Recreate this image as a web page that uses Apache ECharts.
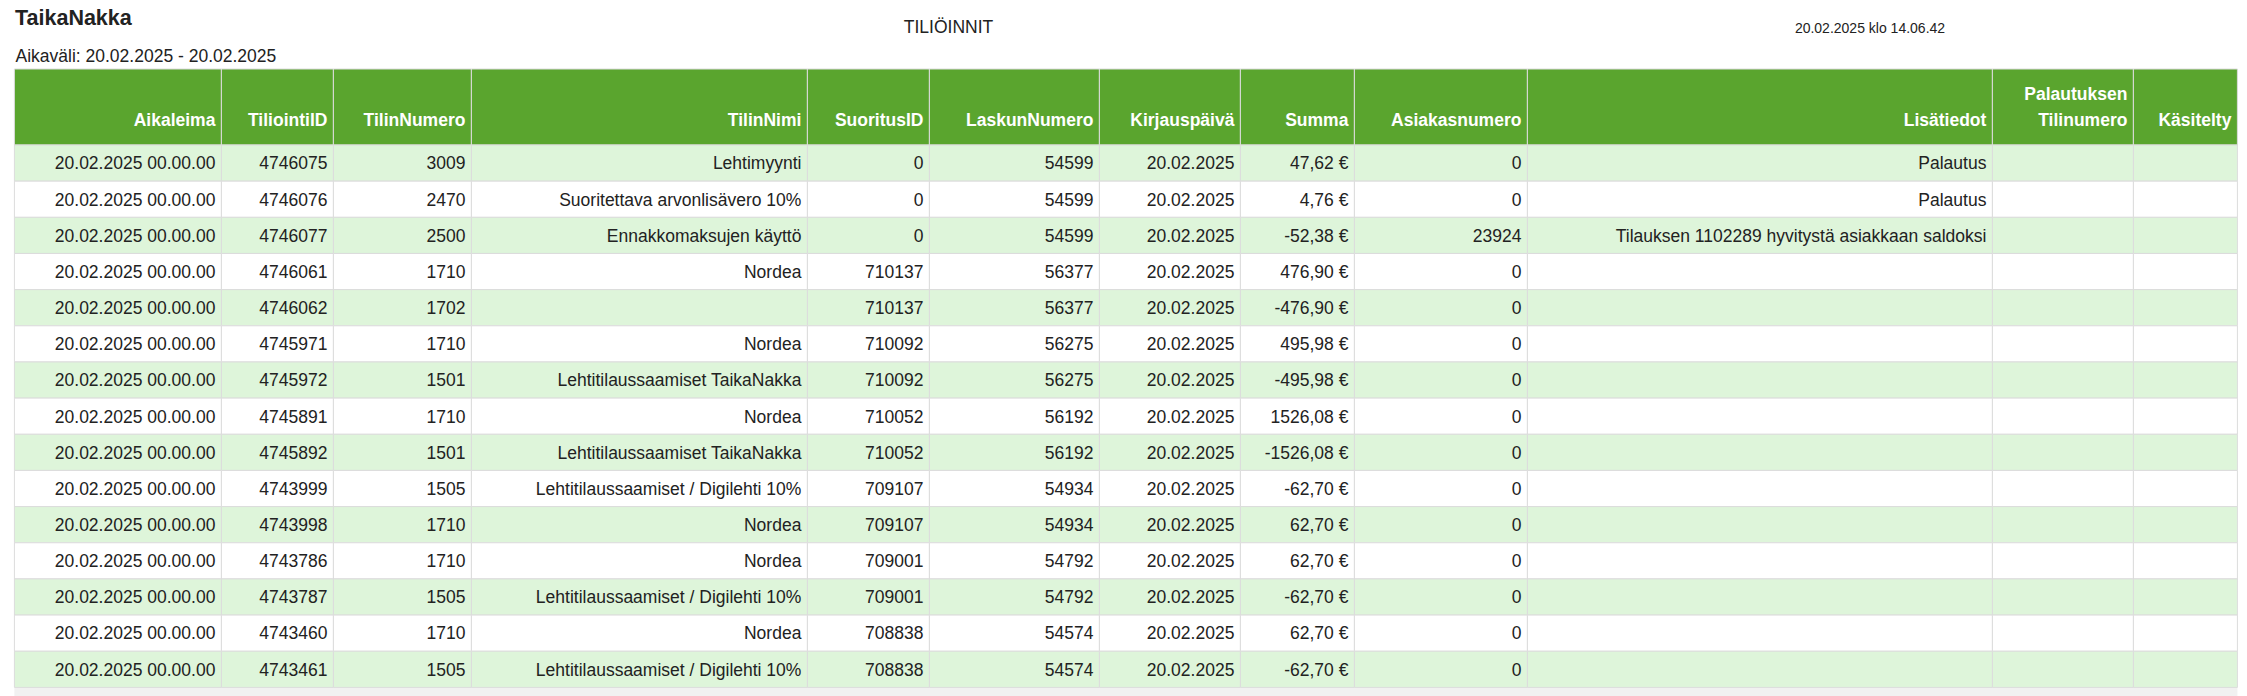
<!DOCTYPE html>
<html>
<head>
<meta charset="utf-8">
<title>TILIÖINNIT</title>
<script src="https://cdn.jsdelivr.net/npm/echarts@6/dist/echarts.min.js"></script>
<style>
  html, body { margin: 0; padding: 0; background: #fff; }
  #table-chart { width: 2247px; height: 696px; }
</style>
</head>
<body>
<div id="table-chart"></div>
<script>
// column headers
var headers = ['Aikaleima', 'TiliointiID', 'TilinNumero', 'TilinNimi', 'SuoritusID', 'LaskunNumero',
    'Kirjauspäivä', 'Summa', 'Asiakasnumero', 'Lisätiedot', 'Palautuksen\nTilinumero', 'Käsitelty'];

// column values, one array per column
var aikaleima = ['20.02.2025 00.00.00', '20.02.2025 00.00.00', '20.02.2025 00.00.00', '20.02.2025 00.00.00',
    '20.02.2025 00.00.00', '20.02.2025 00.00.00', '20.02.2025 00.00.00', '20.02.2025 00.00.00',
    '20.02.2025 00.00.00', '20.02.2025 00.00.00', '20.02.2025 00.00.00', '20.02.2025 00.00.00',
    '20.02.2025 00.00.00', '20.02.2025 00.00.00', '20.02.2025 00.00.00'];
var tiliointiId = [4746075, 4746076, 4746077, 4746061, 4746062, 4745971, 4745972, 4745891,
    4745892, 4743999, 4743998, 4743786, 4743787, 4743460, 4743461];
var tilinNumero = [3009, 2470, 2500, 1710, 1702, 1710, 1501, 1710, 1501, 1505, 1710, 1710, 1505, 1710, 1505];
var tilinNimi = ['Lehtimyynti', 'Suoritettava arvonlisävero 10%', 'Ennakkomaksujen käyttö', 'Nordea', '',
    'Nordea', 'Lehtitilaussaamiset TaikaNakka', 'Nordea', 'Lehtitilaussaamiset TaikaNakka',
    'Lehtitilaussaamiset / Digilehti 10%', 'Nordea', 'Nordea', 'Lehtitilaussaamiset / Digilehti 10%',
    'Nordea', 'Lehtitilaussaamiset / Digilehti 10%'];
var suoritusId = [0, 0, 0, 710137, 710137, 710092, 710092, 710052, 710052, 709107, 709107, 709001, 709001, 708838, 708838];
var laskunNumero = [54599, 54599, 54599, 56377, 56377, 56275, 56275, 56192, 56192, 54934, 54934, 54792, 54792, 54574, 54574];
var kirjauspaiva = ['20.02.2025', '20.02.2025', '20.02.2025', '20.02.2025', '20.02.2025', '20.02.2025',
    '20.02.2025', '20.02.2025', '20.02.2025', '20.02.2025', '20.02.2025', '20.02.2025', '20.02.2025',
    '20.02.2025', '20.02.2025'];
var summa = [47.62, 4.76, -52.38, 476.90, -476.90, 495.98, -495.98, 1526.08, -1526.08,
    -62.70, 62.70, 62.70, -62.70, 62.70, -62.70];
var asiakasnumero = [0, 0, 23924, 0, 0, 0, 0, 0, 0, 0, 0, 0, 0, 0, 0];
var lisatiedot = ['Palautus', 'Palautus', 'Tilauksen 1102289 hyvitystä asiakkaan saldoksi',
    '', '', '', '', '', '', '', '', '', '', '', ''];
var palautuksenTilinumero = ['', '', '', '', '', '', '', '', '', '', '', '', '', '', ''];
var kasitelty = ['', '', '', '', '', '', '', '', '', '', '', '', '', '', ''];

// layout
var colWidths = [207, 112, 138, 336, 122, 170, 141, 114, 173, 465, 141, 104];
var fontFamily = '"Liberation Sans", Arial, Helvetica, sans-serif';
var greenHead = '#5aa52e';
var greenRow = '#def5da';
var lineColor = '#dcdcdc';
var textColor = '#222222';

function euro(v) {
    return v.toFixed(2).replace('.', ',') + ' €';
}

function tableChart() {
    var chart = echarts.init(document.getElementById('table-chart'), null, {renderer: 'svg'});

    var columns = [
        aikaleima, tiliointiId, tilinNumero, tilinNimi, suoritusId, laskunNumero,
        kirjauspaiva, summa.map(euro), asiakasnumero, lisatiedot, palautuksenTilinumero, kasitelty
    ];

    // column edges on the x value axis
    var colEdges = [0];
    colWidths.forEach(function (w, i) { colEdges.push(colEdges[i] + w); });
    var totalWidth = colEdges[colEdges.length - 1];

    var rowIds = aikaleima.map(function (v, i) { return 'r' + i; });

    var headData = headers.map(function (h, c) { return [c, 0]; });
    var bodyData = [];
    var bodyText = [];
    rowIds.forEach(function (id, r) {
        columns.forEach(function (col, c) {
            bodyData.push([c, r]);
            bodyText.push(String(col[r]));
        });
    });

    function cellBox(api) {
        var c = api.value(0), r = api.value(1);
        var p0 = api.coord([colEdges[c], r]);
        var p1 = api.coord([colEdges[c + 1], r]);
        var h = api.size([0, 1])[1];
        return {x: p0[0], y: p0[1] - h / 2, width: p1[0] - p0[0], height: h};
    }

    function renderHead(params, api) {
        var box = cellBox(api);
        return {
            type: 'group',
            children: [{
                type: 'rect',
                shape: box,
                style: {fill: greenHead, stroke: lineColor, lineWidth: 1}
            }, {
                type: 'text',
                style: {
                    text: headers[params.dataIndex],
                    x: box.x + box.width - 6,
                    y: box.y + box.height - 12,
                    align: 'right',
                    verticalAlign: 'bottom',
                    fontFamily: fontFamily,
                    fontSize: 17.5,
                    fontWeight: 'bold',
                    lineHeight: 26,
                    fill: '#ffffff'
                }
            }]
        };
    }

    function renderBody(params, api) {
        var box = cellBox(api);
        var r = api.value(1);
        return {
            type: 'group',
            children: [{
                type: 'rect',
                shape: box,
                style: {fill: r % 2 === 0 ? greenRow : '#ffffff', stroke: lineColor, lineWidth: 1}
            }, {
                type: 'text',
                style: {
                    text: bodyText[params.dataIndex],
                    x: box.x + box.width - 6,
                    y: box.y + box.height / 2 + 0.3,
                    align: 'right',
                    verticalAlign: 'middle',
                    fontFamily: fontFamily,
                    fontSize: 17.5,
                    fill: textColor
                }
            }]
        };
    }

    var option = {
        animation: false,
        backgroundColor: '#ffffff',
        grid: [
            {left: 14.4, width: totalWidth, top: 69, height: 76},
            {left: 14.4, width: totalWidth, top: 145, height: 542.4}
        ],
        xAxis: [
            {gridIndex: 0, type: 'value', min: 0, max: totalWidth, show: false},
            {gridIndex: 1, type: 'value', min: 0, max: totalWidth, show: false}
        ],
        yAxis: [
            {gridIndex: 0, type: 'category', data: ['head'], show: false},
            {gridIndex: 1, type: 'category', data: rowIds, inverse: true, show: false}
        ],
        graphic: [
            {type: 'text', x: 15, y: 17.7, silent: true,
                style: {text: 'TaikaNakka', align: 'left', verticalAlign: 'middle',
                    fontFamily: fontFamily, fontSize: 21.5, fontWeight: 'bold', fill: textColor}},
            {type: 'text', x: 15.5, y: 55.5, silent: true,
                style: {text: 'Aikaväli: 20.02.2025 - 20.02.2025', align: 'left', verticalAlign: 'middle',
                    fontFamily: fontFamily, fontSize: 17.5, fill: textColor}},
            {type: 'text', x: 948.5, y: 26.6, silent: true,
                style: {text: 'TILIÖINNIT', align: 'center', verticalAlign: 'middle',
                    fontFamily: fontFamily, fontSize: 17.5, fill: textColor}},
            {type: 'text', x: 1870, y: 27.7, silent: true,
                style: {text: '20.02.2025 klo 14.06.42', align: 'center', verticalAlign: 'middle',
                    fontFamily: fontFamily, fontSize: 14, fill: textColor}},
            // scrollbar track under the table
            {type: 'rect', silent: true, z: -1,
                shape: {x: 14.4, y: 687.6, width: totalWidth, height: 8.4},
                style: {fill: '#f1f1f1'}}
        ],
        series: [
            {
                type: 'custom',
                xAxisIndex: 0,
                yAxisIndex: 0,
                silent: true,
                data: headData,
                renderItem: renderHead
            },
            {
                type: 'custom',
                xAxisIndex: 1,
                yAxisIndex: 1,
                silent: true,
                data: bodyData,
                renderItem: renderBody
            }
        ]
    };

    option && chart.setOption(option);
}

tableChart();
</script>
</body>
</html>
